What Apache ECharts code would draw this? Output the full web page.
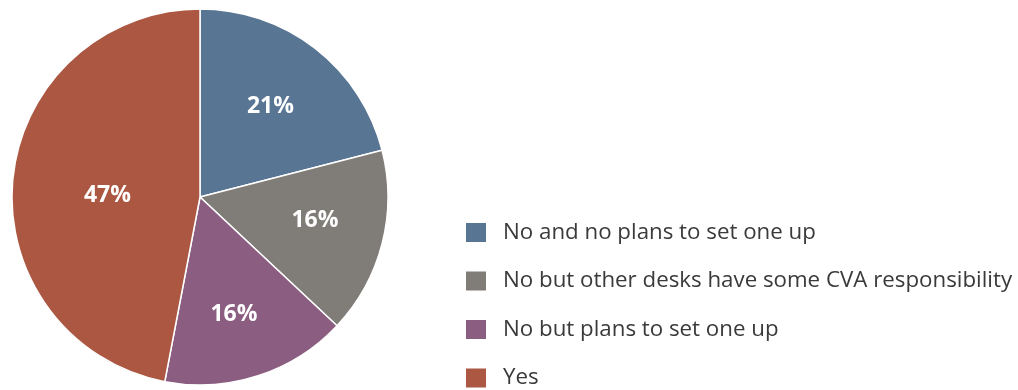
<!DOCTYPE html>
<html>
<head>
<meta charset="utf-8">
<script src="https://cdn.jsdelivr.net/npm/echarts@6/dist/echarts.min.js"></script>
<style>
  html, body { margin: 0; padding: 0; background: #ffffff; }
  #chart { width: 1018px; height: 390px; }
</style>
</head>
<body>
<div id="chart"></div>
<script>
// Survey answers and their shares (%)
const categories = [
  'No and no plans to set one up',
  'No but other desks have some CVA responsibility',
  'No but plans to set one up',
  'Yes'
];
const shares = [21, 16, 16, 47];

const colors = ['#587594', '#807c78', '#8b5e81', '#ab5742'];
// Small nudges so each percentage sits comfortably inside its slice
const labelNudge = [[11, -14], [21, -1], [4, 25], [4, 8]];

const chart = echarts.init(document.getElementById('chart'));
chart.setOption({
  animation: false,
  color: colors,
  legend: {
    orient: 'vertical',
    left: 464,
    top: 221,
    height: 300,
    padding: 0,
    itemWidth: 22,
    itemHeight: 21,
    itemGap: 25.5,
    icon: 'rect',
    selectedMode: false,
    data: categories,
    textStyle: {
      fontFamily: 'Open Sans',
      fontSize: 22.3,
      color: '#3a3a3a',
      lineHeight: 21,
      padding: [0, 0, 0, 11]
    }
  },
  series: [{
    type: 'pie',
    center: [200, 197],
    radius: 188,
    startAngle: 90,
    clockwise: true,
    avoidLabelOverlap: false,
    itemStyle: { borderColor: '#ffffff', borderWidth: 1.5 },
    label: {
      show: true,
      position: 'inside',
      formatter: '{c}%',
      color: '#ffffff',
      fontFamily: 'Open Sans',
      fontWeight: 'bold',
      fontSize: 23
    },
    labelLayout: function (p) {
      const n = labelNudge[p.dataIndex];
      return { dx: n[0], dy: n[1] };
    },
    emphasis: { disabled: true },
    data: categories.map((name, i) => ({ name: name, value: shares[i] }))
  }]
});
</script>
</body>
</html>
